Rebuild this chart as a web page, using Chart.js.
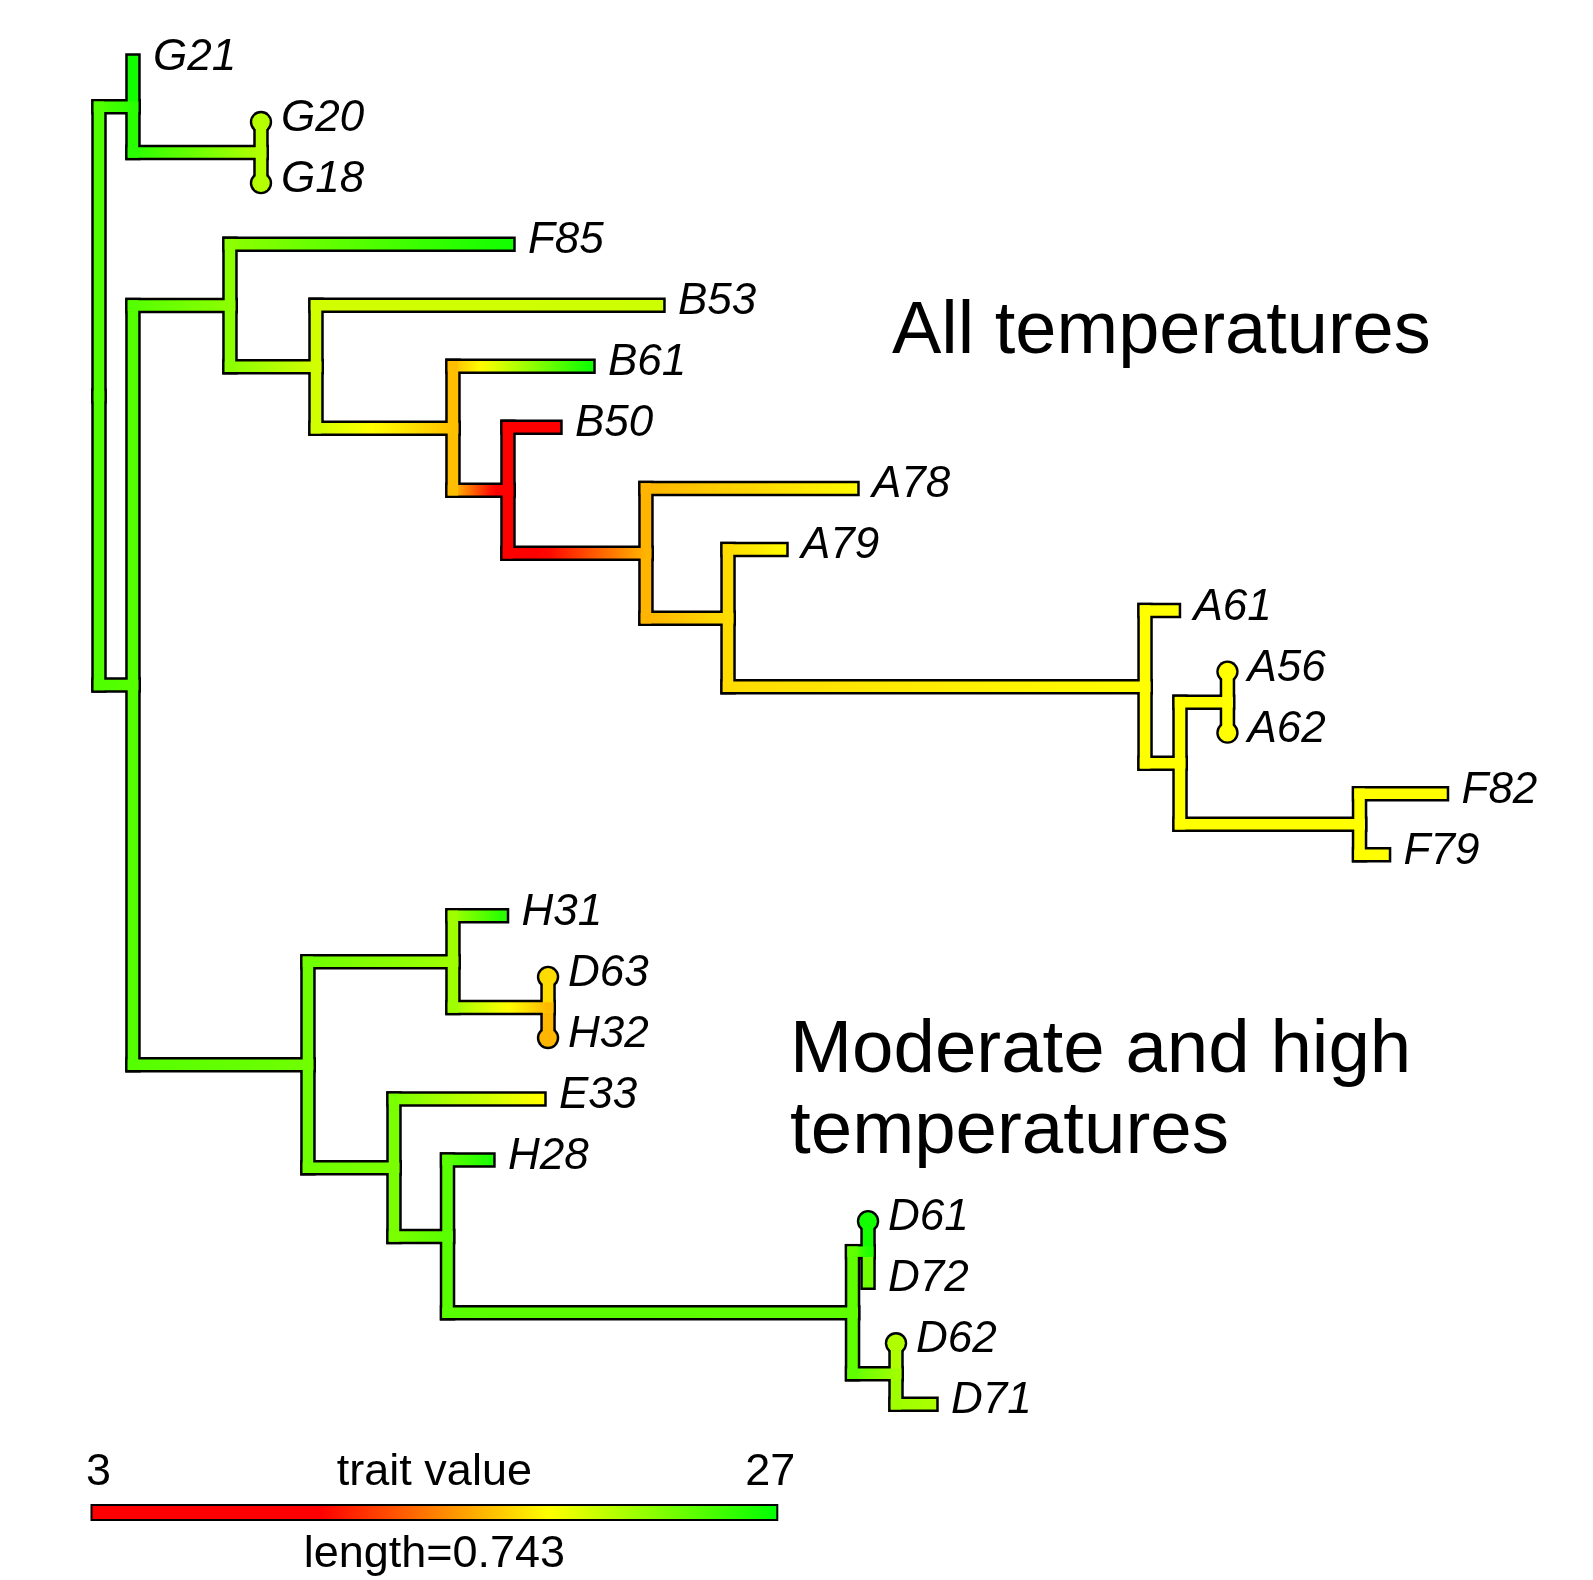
<!DOCTYPE html>
<html>
<head>
<script src="https://cdn.jsdelivr.net/npm/chart.js"></script>
<style>
    html, body { margin: 0; padding: 0; background: #fff; }
    #wrap { width: 1593px; height: 1580px; position: relative; }
</style>
</head>
<body>
<div id="wrap"><canvas id="treeChart"></canvas></div>
<script>
// tips, top to bottom
const tipNames = ['G21', 'G20', 'G18', 'F85', 'B53', 'B61', 'B50', 'A78', 'A79', 'A61', 'A56', 'A62',
    'F82', 'F79', 'H31', 'D63', 'H32', 'E33', 'H28', 'D61', 'D72', 'D62', 'D71'];
const tipParent = [1, 2, 2, 4, 5, 6, 7, 8, 9, 10, 12, 12, 13, 13, 15, 16, 16, 17, 18, 20, 20, 21, 21];
const tipDepth = [0.0368, 0.1755, 0.1755, 0.4431, 0.6056, 0.5298, 0.4940, 0.8158, 0.7389, 1.1641, 1.2226, 1.2226,
    1.4545, 1.3917, 0.4361, 0.4865, 0.4865, 0.4767, 0.4214, 0.8332, 0.8332, 0.8635, 0.9014];
const tipValue = [26.4, 21.3, 21.3, 26.4, 20.6, 26.4, 7.0, 18.8, 18.8, 19.0, 19.0, 19.0,
    19.0, 19.0, 25.7, 17.9, 16.7, 19.0, 26.0, 26.4, 23.5, 21.5, 21.7];

// internal nodes (0 = root)
const nodeParent = [-1, 0, 1, 0, 3, 4, 5, 6, 7, 8, 9, 10, 11, 11, 3, 14, 15, 14, 17, 18, 19, 19];
const nodeDepth = [0, 0.0368, 0.1755, 0.0368, 0.1419, 0.2351, 0.3835, 0.4431, 0.5926, 0.6815, 1.1333,
    1.1712, 1.2226, 1.3657, 0.2264, 0.3835, 0.4865, 0.3196, 0.3776, 0.8164, 0.8332, 0.8635];
const nodeValue = [24.5, 25.7, 21.4, 24.3, 22.6, 20.4, 17.0, 9.0, 16.65, 17.9, 19.0,
    19.0, 19.0, 19.0, 23.5, 22.0, 16.8, 23.2, 24.2, 24.0, 26.0, 22.0];

const circleTips = ['G20', 'G18', 'A56', 'A62', 'D63', 'H32', 'D61', 'D62'];
const traitMin = 3;
const traitMax = 27;
const legendLength = 0.743;

// colour map: red, red, yellow, green
function traitColour(v) {
    let t = (v - traitMin) / (traitMax - traitMin);
    t = Math.max(0, Math.min(1, t));
    if (t <= 1 / 3) return 'rgb(255,0,0)';
    if (t <= 2 / 3) return 'rgb(255,' + Math.round(255 * (t - 1 / 3) * 3) + ',0)';
    return 'rgb(' + Math.round(255 * (1 - (t - 2 / 3) * 3)) + ',255,0)';
}

// node y = middle of its children
const nodeY = new Array(nodeDepth.length).fill(0);
for (let k = nodeDepth.length - 1; k >= 0; k--) {
    const ys = [];
    tipParent.forEach((p, i) => { if (p === k) ys.push(i); });
    nodeParent.forEach((p, j) => { if (p === k) ys.push(nodeY[j]); });
    nodeY[k] = (Math.min(...ys) + Math.max(...ys)) / 2;
}

const segs = [];
function addChild(p, cDepth, cY, cValue) {
    const zero = cDepth - nodeDepth[p] < 1e-6;
    const vv = zero ? cValue : nodeValue[p];
    segs.push({ x0: nodeDepth[p], y0: nodeY[p], x1: nodeDepth[p], y1: cY, v0: vv, v1: vv });
    if (!zero) segs.push({ x0: nodeDepth[p], y0: cY, x1: cDepth, y1: cY, v0: nodeValue[p], v1: cValue });
}
nodeParent.forEach((p, j) => { if (p >= 0) addChild(p, nodeDepth[j], nodeY[j], nodeValue[j]); });
tipParent.forEach((p, i) => addChild(p, tipDepth[i], i, tipValue[i]));

function branchPaint(ctx) {
    const ds = ctx.dataset;
    const chart = ctx.chart;
    if (ds.v0 === ds.v1 || !chart.chartArea) return traitColour(ds.v1);
    const xs = chart.scales.x;
    const a = xs.getPixelForValue(ds.x0);
    const b = xs.getPixelForValue(ds.x1);
    const g = chart.ctx.createLinearGradient(a, 0, b, 0);
    for (let k = 0; k <= 10; k++) {
        g.addColorStop(k / 10, traitColour(ds.v0 + (ds.v1 - ds.v0) * k / 10));
    }
    return g;
}

const datasets = [];
segs.forEach((s) => {
    const pts = [{ x: s.x0, y: s.y0 }, { x: s.x1, y: s.y1 }];
    datasets.push({
        data: pts, borderColor: '#000', borderWidth: 15.5, borderCapStyle: 'square',
        pointRadius: 0, order: 3, clip: false
    });
    datasets.push({
        data: pts, x0: s.x0, x1: s.x1, v0: s.v0, v1: s.v1,
        borderColor: branchPaint, borderWidth: 10.5, borderCapStyle: 'square',
        pointRadius: 0, order: 2, clip: false
    });
});

const circleIdx = circleTips.map((n) => tipNames.indexOf(n));
const circlePts = circleIdx.map((i) => ({ x: tipDepth[i], y: i }));
datasets.push({
    data: circlePts, showLine: false, pointRadius: 11.2, pointBorderWidth: 0,
    pointBackgroundColor: '#000', order: 3, clip: false
});
datasets.push({
    data: circlePts, showLine: false, pointRadius: 8.8, pointBorderWidth: 0,
    pointBackgroundColor: circleIdx.map((i) => traitColour(tipValue[i])), order: 2, clip: false
});

const FONT = '"Liberation Sans", Arial, sans-serif';

const treeText = {
    id: 'treeText',
    afterDraw(chart) {
        const c = chart.ctx;
        const xs = chart.scales.x;
        const ys = chart.scales.y;
        c.save();
        c.fillStyle = '#000';
        c.textBaseline = 'alphabetic';
        c.textAlign = 'left';
        c.font = 'italic 44px ' + FONT;
        tipNames.forEach((n, i) => {
            c.fillText(n, xs.getPixelForValue(tipDepth[i]) + 20, ys.getPixelForValue(i) + 9);
        });

        c.font = '74px ' + FONT;
        c.fillText('All temperatures', 892, 353);
        c.font = '74.5px ' + FONT;
        c.fillText('Moderate and high', 790, 1072);
        c.fillText('temperatures', 790, 1153);

        // colour bar legend
        const x0 = xs.getPixelForValue(0) - 7.5;
        const w = xs.getPixelForValue(legendLength) - xs.getPixelForValue(0);
        const g = c.createLinearGradient(x0, 0, x0 + w, 0);
        g.addColorStop(0, traitColour(traitMin));
        g.addColorStop(1 / 3, traitColour(traitMin + (traitMax - traitMin) / 3));
        g.addColorStop(2 / 3, traitColour(traitMin + (traitMax - traitMin) * 2 / 3));
        g.addColorStop(1, traitColour(traitMax));
        c.fillStyle = g;
        c.fillRect(x0, 1505, w, 15);
        c.lineWidth = 2;
        c.strokeStyle = '#000';
        c.strokeRect(x0, 1505, w, 15);

        c.fillStyle = '#000';
        c.font = '45px ' + FONT;
        c.textAlign = 'center';
        c.fillText(String(traitMin), x0 + 7, 1485);
        c.fillText('trait value', x0 + w / 2, 1485);
        c.fillText(String(traitMax), x0 + w - 7, 1485);
        c.fillText('length=' + legendLength, x0 + w / 2, 1567);
        c.restore();
    }
};

new Chart(document.getElementById('treeChart').getContext('2d'), {
    type: 'line',
    data: { datasets: datasets },
    options: {
        responsive: true,
        maintainAspectRatio: false,
        animation: false,
        events: [],
        layout: { padding: 0, autoPadding: false },
        plugins: { legend: { display: false }, tooltip: { enabled: false } },
        scales: {
            x: { type: 'linear', display: false, min: -99 / 923, max: (1593 - 99) / 923 },
            y: { type: 'linear', display: false, reverse: true, min: -61 / 61.06, max: (1580 - 61) / 61.06 }
        }
    },
    plugins: [treeText]
});
</script>
</body>
</html>
